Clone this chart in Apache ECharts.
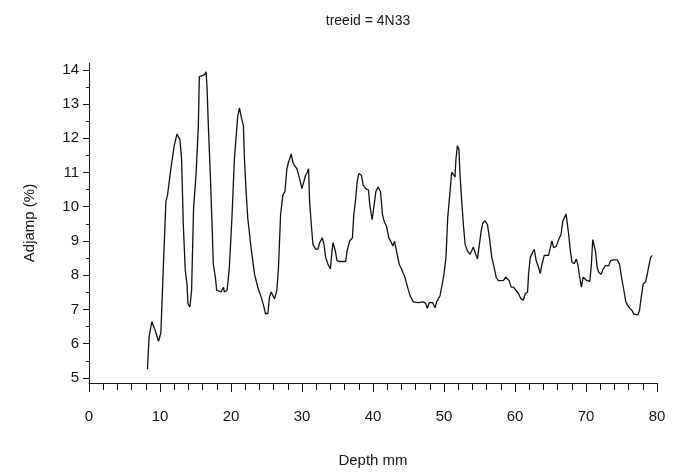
<!DOCTYPE html>
<html>
<head>
<meta charset="utf-8">
<script src="https://cdn.jsdelivr.net/npm/echarts@6/dist/echarts.min.js"></script>
<style>
  html, body { margin: 0; padding: 0; background: #fff; }
  #chart { width: 689px; height: 473px; }
</style>
</head>
<body>
<div id="chart"></div>
<script>
// depth (mm) and adjamp (%)
const depth = [
  8.24, 8.3, 8.47, 8.85, 9.3, 9.79, 10.12, 10.45, 10.83, 11.06, 11.53, 12.0, 12.38, 12.8, 13.04, 13.28,
  13.56, 13.8, 13.94, 14.22, 14.45, 14.73, 15.07, 15.4, 15.54, 16.24, 16.48, 16.62, 16.81, 17.09, 17.33,
  17.51, 17.8, 17.98, 18.6, 18.93, 19.07, 19.45, 19.77, 20.15, 20.48, 20.95, 21.19, 21.42, 21.75, 21.89,
  22.13, 22.36, 22.83, 23.31, 23.77, 24.25, 24.58, 24.86, 25.19, 25.42, 25.66, 25.9, 26.13, 26.46, 26.69,
  26.98, 27.3, 27.6, 27.87, 28.1, 28.48, 28.72, 28.95, 29.28, 29.66, 29.99, 30.27, 30.51, 30.74, 30.93,
  31.07, 31.31, 31.54, 31.92, 32.25, 32.49, 32.86, 33.1, 33.33, 33.66, 34.0, 34.23, 34.37, 34.7, 34.93,
  35.3, 36.16, 36.35, 36.72, 37.1, 37.29, 37.57, 37.76, 38.0, 38.37, 38.61, 38.98, 39.36, 39.55, 39.88,
  40.16, 40.4, 40.72, 41.06, 41.34, 41.58, 41.9, 42.23, 42.6, 42.8, 43.03, 43.31, 43.69, 44.02, 44.26,
  44.49, 44.87, 45.2, 45.67, 46.37, 47.08, 47.4, 47.64, 47.93, 48.4, 48.73, 48.96, 49.44, 49.67, 50.0,
  50.28, 50.52, 50.85, 51.08, 51.32, 51.55, 51.69, 51.88, 52.1, 52.26, 52.5, 52.73, 52.97, 53.3, 53.67,
  53.9, 54.14, 54.38, 54.71, 54.99, 55.23, 55.46, 55.79, 56.12, 56.4, 56.73, 57.06, 57.34, 57.67, 58.38,
  58.7, 58.94, 59.17, 59.46, 59.79, 60.12, 60.5, 60.83, 61.2, 61.44, 61.77, 61.91, 62.15, 62.47, 62.71,
  62.99, 63.32, 63.56, 63.8, 64.12, 64.73, 64.97, 65.2, 65.44, 65.82, 66.15, 66.48, 66.72, 66.95, 67.19,
  67.33, 67.56, 67.8, 68.03, 68.36, 68.64, 68.88, 69.11, 69.35, 69.59, 69.82, 70.15, 70.53, 70.76, 70.95,
  71.09, 71.33, 71.57, 71.8, 72.13, 72.41, 72.74, 73.21, 73.45, 73.82, 74.39, 74.72, 75.0, 75.33, 75.61,
  75.89, 76.17, 76.5, 76.74, 77.3, 77.54, 77.78, 78.06, 78.39, 78.63, 78.86, 79.1, 79.33
]
const adjamp = [
  5.25, 5.55, 6.21, 6.64, 6.4, 6.07, 6.31, 8.13, 10.15, 10.34, 11.11, 11.78, 12.12, 11.97, 11.4, 9.48,
  8.14, 7.75, 7.17, 7.07, 7.56, 9.96, 10.92, 12.36, 13.8, 13.85, 13.94, 13.51, 12.36, 10.92, 9.48,
  8.32, 7.94, 7.56, 7.51, 7.65, 7.51, 7.56, 8.23, 9.76, 11.4, 12.65, 12.89, 12.65, 12.36, 11.4,
  10.44, 9.67, 8.8, 8.03, 7.65, 7.36, 7.12, 6.88, 6.88, 7.36, 7.51, 7.46, 7.31, 7.56, 8.23,
  9.76, 10.34, 10.44, 11.11, 11.3, 11.54, 11.3, 11.2, 11.11, 10.82, 10.53, 10.53, 10.92, 11.0, 11.11,
  10.15, 9.48, 8.9, 8.76, 8.76, 8.95, 9.09, 8.9, 8.52, 8.32, 8.18, 8.71, 8.95, 8.71, 8.42,
  8.4, 8.4, 8.71, 9.0, 9.09, 9.76, 10.24, 10.73, 10.97, 10.92, 10.63, 10.53, 10.49, 10.05, 9.62,
  10.05, 10.44, 10.58, 10.44, 9.76, 9.57, 9.43, 9.09, 8.95, 8.85, 8.99, 8.71, 8.32, 8.18, 8.23,
  7.94, 7.65, 7.41, 7.22, 7.2, 7.22, 7.18, 7.03, 7.2, 7.2, 7.05, 7.22, 7.4, 7.65, 8.03,
  8.52, 9.67, 10.44, 11.01, 11.06, 10.87, 11.4, 11.78, 11.68, 10.92, 10.15, 9.48, 8.9, 8.71, 8.61,
  8.66, 8.82, 8.66, 8.47, 8.47, 9.29, 9.52, 9.59, 9.48, 9.09, 8.52, 8.23, 7.94, 7.84, 7.85,
  7.94, 7.99, 7.84, 7.65, 7.65, 7.56, 7.46, 7.31, 7.27, 7.46, 7.51, 8.03, 8.52, 8.66, 8.76,
  8.42, 8.23, 8.05, 8.32, 8.58, 8.58, 8.8, 9.0, 8.8, 8.85, 9.04, 9.19, 9.57, 9.62, 9.79,
  9.57, 9.19, 8.71, 8.37, 8.34, 8.47, 8.28, 7.94, 7.65, 7.94, 7.99, 7.84, 7.82, 8.32, 9.04,
  9.09, 8.71, 8.23, 8.08, 8.03, 8.18, 8.28, 8.28, 8.42, 8.45, 8.45, 8.32, 7.94, 7.56, 7.22,
  7.12, 7.03, 6.96, 6.86, 6.84, 6.98, 7.36, 7.75, 7.8, 8.03, 8.28, 8.52, 8.58
]

// tick positions
const xMajorTicks = [0, 10, 20, 30, 40, 50, 60, 70, 80]
const xMinorTicks = [2, 4, 6, 8, 12, 14, 16, 18, 22, 24, 26, 28, 32, 34, 36, 38, 42, 44, 46, 48,
  52, 54, 56, 58, 62, 64, 66, 68, 72, 74, 76, 78]
const yMajorTicks = [5, 6, 7, 8, 9, 10, 11, 12, 13, 14]
const yMinorTicks = [5.5, 6.5, 7.5, 8.5, 9.5, 10.5, 11.5, 12.5, 13.5]

const FONT = 'Liberation Sans'
const INK = '#161616'

const chart = echarts.init(document.getElementById('chart'))

const points = depth.map((d, i) => [d, adjamp[i]])

const axisLine = { show: true, lineStyle: { color: INK, width: 1 } }

const option = {
  animation: false,
  backgroundColor: '#fff',
  title: {
    text: 'treeid = 4N33',
    left: 363,
    top: 9,
    textAlign: 'center',
    textStyle: { fontFamily: FONT, fontSize: 14, fontWeight: 'normal', color: INK }
  },
  grid: { left: 89, right: 32, top: 63, bottom: 86 },
  xAxis: [
    {
      type: 'value',
      position: 'bottom',
      min: 0,
      max: 80,
      name: 'Depth mm',
      nameLocation: 'middle',
      nameGap: 70,
      nameTextStyle: { fontFamily: FONT, fontSize: 15, color: INK },
      axisLine: axisLine,
      axisTick: { show: true, length: 9, customValues: xMajorTicks, lineStyle: { color: INK } },
      axisLabel: { customValues: xMajorTicks, margin: 26, fontFamily: FONT, fontSize: 15, color: INK },
      splitLine: { show: false }
    },
    {
      type: 'value',
      position: 'bottom',
      min: 0,
      max: 80,
      axisLine: { show: false },
      axisTick: { show: true, length: 7, customValues: xMinorTicks, lineStyle: { color: INK } },
      axisLabel: { show: false },
      splitLine: { show: false }
    }
  ],
  yAxis: [
    {
      type: 'value',
      position: 'left',
      min: 4.85,
      max: 14.2,
      name: 'Adjamp (%)',
      nameLocation: 'middle',
      nameGap: 52,
      nameTextStyle: { fontFamily: FONT, fontSize: 15, color: INK },
      axisLine: axisLine,
      axisTick: { show: true, length: 6, customValues: yMajorTicks, lineStyle: { color: INK } },
      axisLabel: { customValues: yMajorTicks, margin: 10, fontFamily: FONT, fontSize: 15, color: INK },
      splitLine: { show: false }
    },
    {
      type: 'value',
      position: 'left',
      min: 4.85,
      max: 14.2,
      axisLine: { show: false },
      axisTick: { show: true, length: 3, customValues: yMinorTicks, lineStyle: { color: INK } },
      axisLabel: { show: false },
      splitLine: { show: false }
    }
  ],
  series: [
    {
      type: 'line',
      data: points,
      showSymbol: false,
      silent: true,
      lineStyle: { color: '#111', width: 1.3 }
    }
  ]
}

chart.setOption(option)
</script>
</body>
</html>
